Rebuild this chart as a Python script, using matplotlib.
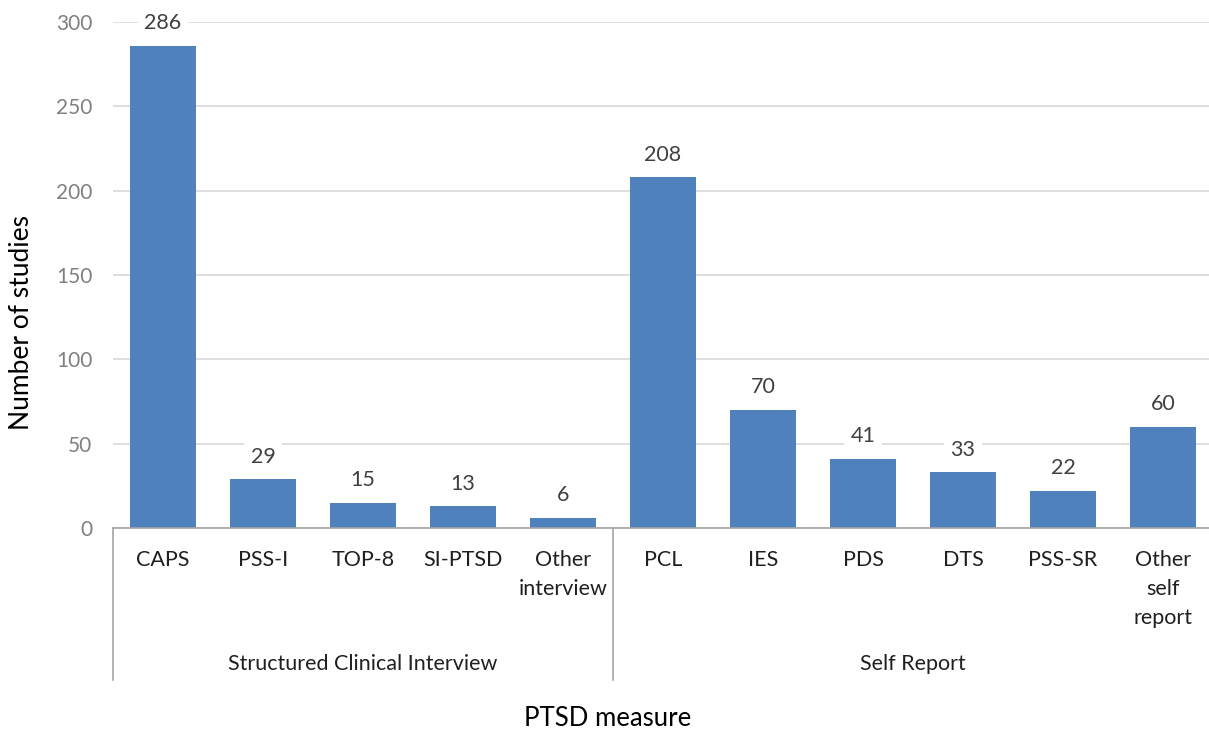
import numpy as np
import matplotlib.pyplot as plt
from matplotlib.lines import Line2D

plt.rcParams['font.family'] = ['Lato', 'DejaVu Sans']

measures = ['CAPS', 'PSS-I', 'TOP-8', 'SI-PTSD', 'Other\ninterview',
            'PCL', 'IES', 'PDS', 'DTS', 'PSS-SR', 'Other\nself\nreport']
counts = [286, 29, 15, 13, 6, 208, 70, 41, 33, 22, 60]
groups = ['Structured Clinical Interview', 'Self Report']
group_sizes = [5, 6]

bar_color = '#4F81BD'

fig = plt.figure(figsize=(12.09, 7.33), dpi=100)
ax = fig.add_axes([113 / 1209, 1 - 528 / 733, 1100 / 1209, 506 / 733])

x = np.arange(len(measures))
ax.bar(x, counts, width=0.66, color=bar_color, zorder=2)

ax.set_xlim(-0.5, len(measures) - 0.5)
ax.set_ylim(0, 300)
ax.set_yticks(np.arange(0, 301, 50))
ax.yaxis.grid(True, color='#D9D9D9', linewidth=1.2, zorder=0)
ax.set_axisbelow(True)
ax.tick_params(axis='y', length=0, labelsize=15, colors='#808080', pad=15)

ax.set_xticks(x)
ax.set_xticklabels(measures, fontsize=15.5, color='#202020', linespacing=1.55, va='top')
ax.tick_params(axis='x', length=0, pad=16)

for s in ['top', 'right', 'left']:
    ax.spines[s].set_visible(False)
ax.spines['bottom'].set_color('#A6A6A6')
ax.spines['bottom'].set_linewidth(1.2)

# value labels with white boxes over the gridlines
for xi, v in zip(x, counts):
    ax.annotate(str(v), (xi, v), xytext=(0, 9), textcoords='offset points',
                ha='center', va='bottom', fontsize=15.5, color='#404040',
                bbox=dict(boxstyle='square,pad=0.3', fc='white', ec='none'),
                zorder=3)

# group separators and group names below tick labels
line_bottom = -(680 - 528) / 506
edges = np.concatenate([[0], np.cumsum(group_sizes)])
for e in edges:
    xe = e / len(measures)
    ax.add_line(Line2D([xe, xe], [0, line_bottom], transform=ax.transAxes,
                       color='#A6A6A6', linewidth=1.2, clip_on=False))
for g, a, b in zip(groups, edges[:-1], edges[1:]):
    ax.text((a + b) / 2 - 0.5, -(664 - 528) / 506 * 300, g, ha='center',
            va='center', fontsize=15.5, color='#202020', clip_on=False)

fig.text(22 / 1209, 1 - 322 / 733, 'Number of studies', rotation=90,
         ha='center', va='center', fontsize=19, color='black')
fig.text(608 / 1209, 1 - 718 / 733, 'PTSD measure',
         ha='center', va='center', fontsize=18.5, color='black')

fig.savefig('out.png', dpi=100, facecolor='white')
